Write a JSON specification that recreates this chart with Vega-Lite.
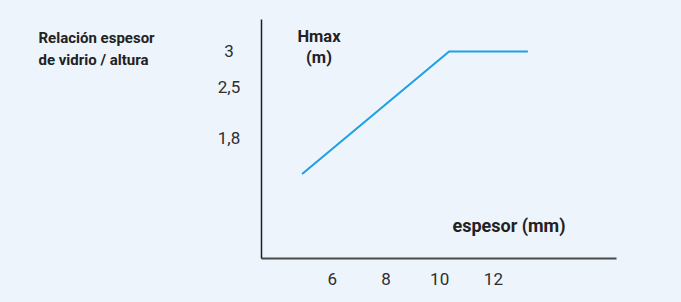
{
  "$schema": "https://vega.github.io/schema/vega-lite/v6.json",
  "width": 355,
  "height": 239,
  "autosize": {"type": "none"},
  "padding": {"left": 261, "top": 19, "right": 65, "bottom": 44},
  "background": "#edf4fc",
  "title": {
    "text": ["Hmax", "(m)"],
    "anchor": "start",
    "frame": "group",
    "align": "center",
    "baseline": "middle",
    "dx": 58,
    "dy": 55,
    "offset": 0,
    "lineHeight": 21,
    "font": "Roboto",
    "fontSize": 16.5,
    "fontWeight": "bold",
    "color": "#222222"
  },
  "data": {
    "values": [
      {"espesor": 4.9, "hmax": 1.31},
      {"espesor": 10.37, "hmax": 3},
      {"espesor": 13.3, "hmax": 3}
    ]
  },
  "mark": {"type": "line", "color": "#1ea0e2", "strokeWidth": 2},
  "encoding": {
    "x": {
      "field": "espesor",
      "type": "quantitative",
      "scale": {"domain": [3.37, 16.58], "nice": false, "zero": false},
      "axis": {
        "values": [6, 8, 10, 12],
        "grid": false,
        "ticks": false,
        "tickSize": 0,
        "domainColor": "#4a4a4a",
        "domainWidth": 2,
        "labelFont": "Roboto",
        "labelFontSize": 17,
        "labelColor": "#2e2e2e",
        "labelBaseline": "middle",
        "labelPadding": 21,
        "title": "espesor (mm)",
        "titleFont": "Roboto",
        "titleFontSize": 18,
        "titleFontWeight": "bold",
        "titleColor": "#222222",
        "titleAlign": "center",
        "titleBaseline": "middle",
        "titleX": 247.5,
        "titleY": -32
      }
    },
    "y": {
      "field": "hmax",
      "type": "quantitative",
      "scale": {"domain": [0.15, 3.45], "nice": false, "zero": false},
      "axis": {
        "values": [1.8, 2.5, 3],
        "format": ".2~f",
        "labelExpr": "replace(datum.label, '.', ',')",
        "grid": false,
        "ticks": false,
        "tickSize": 0,
        "domainColor": "#1e1e1e",
        "domainWidth": 1.5,
        "labelFont": "Roboto",
        "labelFontSize": 17,
        "labelColor": "#2e2e2e",
        "labelAlign": "center",
        "labelBaseline": "middle",
        "labelPadding": 32.5,
        "title": ["Relación espesor", "de vidrio / altura"],
        "titleFont": "Roboto",
        "titleFontSize": 15,
        "titleFontWeight": "bold",
        "titleColor": "#222222",
        "titleAngle": 0,
        "titleAlign": "left",
        "titleBaseline": "middle",
        "titleLineHeight": 22,
        "titleX": -223,
        "titleY": 18
      }
    }
  },
  "config": {"view": {"stroke": null}}
}
